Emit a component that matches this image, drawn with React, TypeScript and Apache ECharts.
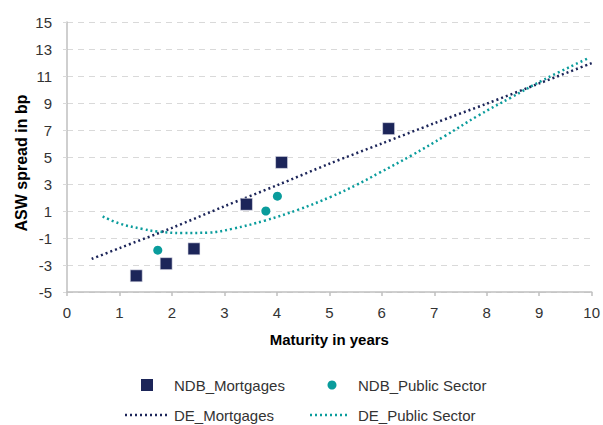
import React, { useEffect, useRef } from "react";
import * as echarts from "echarts";

const ndbMortgages: [number, number][] = [
  [1.32, -3.8], [1.89, -2.9], [2.42, -1.8], [3.42, 1.5], [4.09, 4.6], [6.13, 7.1],
];
const ndbPublic: [number, number][] = [
  [1.73, -1.9], [3.79, 1.0], [4.01, 2.1],
];
const deMortgages: [number, number][] = [
  [0.47, -2.55], [1, -1.75], [2, -0.25], [3, 1.35], [4, 2.9], [5, 4.5],
  [6, 6.0], [7, 7.5], [8, 8.95], [9, 10.45], [10, 11.95],
];
const dePublic: [number, number][] = [
  [0.68, 0.6], [1.0, 0.07], [1.44, -0.33], [1.72, -0.52], [2.2, -0.63], [2.7, -0.6],
  [3.15, -0.32], [3.78, 0.3], [4.41, 1.1], [5.04, 2.07], [5.5, 2.9], [5.94, 3.8],
  [6.56, 5.1], [7.2, 6.55], [7.83, 8.05], [8.46, 9.4], [9.1, 10.75], [9.92, 12.29],
];
const yTicks = [-5, 15];
const xRange = [0, 10];
const seriesNames = ["NDB_Mortgages", "NDB_Public Sector", "DE_Mortgages", "DE_Public Sector"];
const yAxisTitle = "ASW spread in bp";
const xAxisTitle = "Maturity in years";

const NAVY = "#1C2559";
const TEAL = "#0A9C9C";
const FONT = "Liberation Sans";

export default function App() {
  const ref = useRef<HTMLDivElement>(null);
  useEffect(() => {
    if (!ref.current) return;
    const chart = echarts.init(ref.current, undefined, { renderer: "svg" });
    const legendText = (text: string, x: number, y: number) => ({
      type: "text",
      x,
      y,
      style: { text, fontFamily: FONT, fontSize: 15, fill: "#333", verticalAlign: "middle", align: "left" },
    });
    const dotted = (x1: number, x2: number, y: number, color: string) => ({
      type: "line",
      shape: { x1, y1: y, x2, y2: y },
      style: { stroke: color, lineWidth: 2.5, lineDash: [2, 3] },
    });
    chart.setOption({
      animation: false,
      textStyle: { fontFamily: FONT },
      grid: { left: 67, right: 9, top: 22, bottom: 133 },
      graphic: [
        {
          type: "text",
          x: 21,
          y: 163,
          rotation: Math.PI / 2,
          style: {
            text: yAxisTitle,
            fontFamily: FONT,
            fontSize: 16,
            fontWeight: "bold",
            fill: "#000",
            align: "center",
            verticalAlign: "middle",
          },
        },
        { type: "rect", shape: { x: 141, y: 379, width: 12, height: 12 }, style: { fill: NAVY } },
        legendText(seriesNames[0], 174, 385),
        { type: "circle", shape: { cx: 332, cy: 385, r: 4.5 }, style: { fill: TEAL } },
        legendText(seriesNames[1], 358, 385),
        dotted(125, 170, 415, NAVY),
        legendText(seriesNames[2], 174, 415),
        dotted(310, 350, 415, TEAL),
        legendText(seriesNames[3], 358, 415),
      ],
      xAxis: {
        type: "value",
        min: xRange[0],
        max: xRange[1],
        interval: 1,
        name: xAxisTitle,
        nameLocation: "middle",
        nameGap: 40,
        nameTextStyle: { fontFamily: FONT, fontSize: 15, fontWeight: "bold", color: "#000" },
        axisLine: { show: true, onZero: false, lineStyle: { color: "#BFBFBF", width: 1.5 } },
        axisTick: { show: true, length: 4, lineStyle: { color: "#BFBFBF", width: 1.5 } },
        axisLabel: { fontFamily: FONT, fontSize: 15, color: "#333", margin: 13 },
        splitLine: { show: false },
      },
      yAxis: {
        type: "value",
        min: yTicks[0],
        max: yTicks[1],
        interval: 2,
        axisLine: { show: true, onZero: false, lineStyle: { color: "#BFBFBF", width: 1.5 } },
        axisTick: { show: true, length: 4, lineStyle: { color: "#D9D9D9", width: 1 } },
        axisLabel: { fontFamily: FONT, fontSize: 15, color: "#333", margin: 15 },
        splitLine: { show: true, lineStyle: { color: "#D9D9D9", type: [6, 5], width: 1.2 } },
      },
      series: [
        {
          name: seriesNames[2],
          type: "line",
          data: deMortgages,
          smooth: 0.3,
          showSymbol: false,
          symbol: "none",
          lineStyle: { color: NAVY, width: 2.5, type: [2, 3] },
          itemStyle: { color: NAVY },
          z: 2,
        },
        {
          name: seriesNames[3],
          type: "line",
          data: dePublic,
          smooth: 0.4,
          showSymbol: false,
          symbol: "none",
          lineStyle: { color: TEAL, width: 2.5, type: [2, 3] },
          itemStyle: { color: TEAL },
          z: 2,
        },
        {
          name: seriesNames[0],
          type: "scatter",
          data: ndbMortgages,
          symbol: "rect",
          symbolSize: 12,
          itemStyle: { color: NAVY, opacity: 1, borderColor: "#E8E8F0", borderWidth: 0.6 },
          z: 3,
        },
        {
          name: seriesNames[1],
          type: "scatter",
          data: ndbPublic,
          symbol: "circle",
          symbolSize: 9,
          itemStyle: { color: TEAL, opacity: 1 },
          z: 3,
        },
      ],
    });
    return () => chart.dispose();
  }, []);
  return (
    <div
      ref={ref}
      style={{ position: "fixed", left: 0, top: 0, width: 603, height: 425, background: "#fff" }}
    />
  );
}
